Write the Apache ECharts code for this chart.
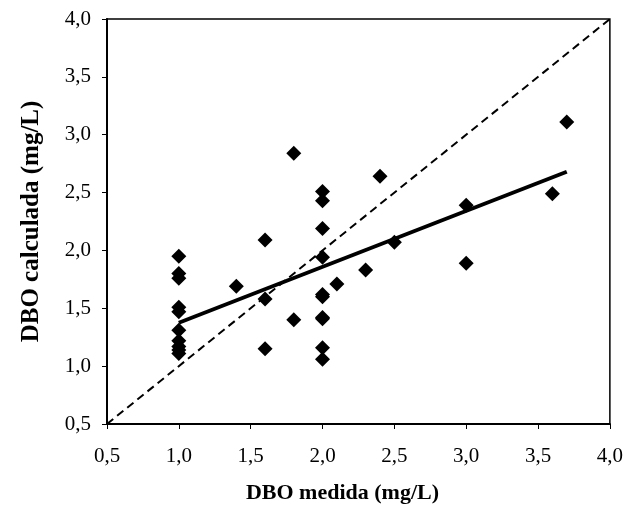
<!DOCTYPE html>
<html><head><meta charset="utf-8">
<script src="https://cdn.jsdelivr.net/npm/echarts@6/dist/echarts.min.js"></script>
<style>html,body{margin:0;padding:0;background:#fff}#c{width:626px;height:512px}</style>
</head><body><div id="c"></div>
<script>
const measured = [1.0,1.0,1.0,1.0,1.0,1.0,1.0,1.0,1.0,1.0,1.4,1.6,1.6,1.6,1.8,1.8,2.0,2.0,2.0,2.0,2.0,2.0,2.0,2.0,2.0,2.0,2.1,2.3,2.4,2.5,3.0,3.0,3.6,3.7];
const calculated = [1.95,1.80,1.76,1.51,1.47,1.31,1.22,1.17,1.14,1.11,1.69,2.09,1.58,1.15,2.84,1.40,2.51,2.43,2.19,1.94,1.62,1.60,1.42,1.41,1.16,1.06,1.71,1.83,2.64,2.07,2.39,1.89,2.49,3.11];
const fitX = [1.0, 3.7];
const fitY = [1.375, 2.68];
const idealX = [0.5, 4.0];
const idealY = [0.5, 4.0];
const fmt = v => v.toFixed(1).replace('.', ',');

const chart = echarts.init(document.getElementById('c'));
const font = 'Liberation Serif, Times New Roman, serif';
chart.setOption({
  animation: false,
  backgroundColor: '#fff',
  grid: {left: 107, top: 19, right: 16, bottom: 88, show: true, borderColor: '#000', borderWidth: 1.5},
  xAxis: {
    type: 'value', min: 0.5, max: 4.0, interval: 0.5,
    axisLine: {show: true, onZero: false, lineStyle: {color: '#000', width: 2}},
    axisTick: {show: true, inside: false, length: 5, lineStyle: {color: '#000'}},
    splitLine: {show: false},
    axisLabel: {formatter: fmt, color: '#000', fontFamily: font, fontSize: 21, margin: 22},
    name: 'DBO medida (mg/L)', nameLocation: 'middle', nameGap: 58,
    nameTextStyle: {color: '#000', fontFamily: font, fontSize: 22, fontWeight: 'bold', padding: [0, 32, 0, 0]}
  },
  yAxis: {
    type: 'value', min: 0.5, max: 4.0, interval: 0.5,
    axisLine: {show: true, onZero: false, lineStyle: {color: '#000', width: 2}},
    axisTick: {show: true, inside: false, length: 5, lineStyle: {color: '#000'}},
    splitLine: {show: false},
    axisLabel: {formatter: fmt, color: '#000', fontFamily: font, fontSize: 21, margin: 16},
    name: 'DBO calculada (mg/L)', nameLocation: 'middle', nameGap: 63,
    nameTextStyle: {color: '#000', fontFamily: font, fontSize: 25, fontWeight: 'bold'}
  },
  series: [
    {type: 'line', data: idealX.map((x, i) => [x, idealY[i]]), symbol: 'none',
     lineStyle: {color: '#000', width: 2, type: [8, 5]}, z: 1},
    {type: 'line', data: fitX.map((x, i) => [x, fitY[i]]), symbol: 'none',
     lineStyle: {color: '#000', width: 4}, z: 2},
    {type: 'scatter', data: measured.map((x, i) => [x, calculated[i]]), symbol: 'diamond', symbolSize: 15,
     itemStyle: {color: '#000', opacity: 1}, z: 3}
  ]
});
</script></body></html>
